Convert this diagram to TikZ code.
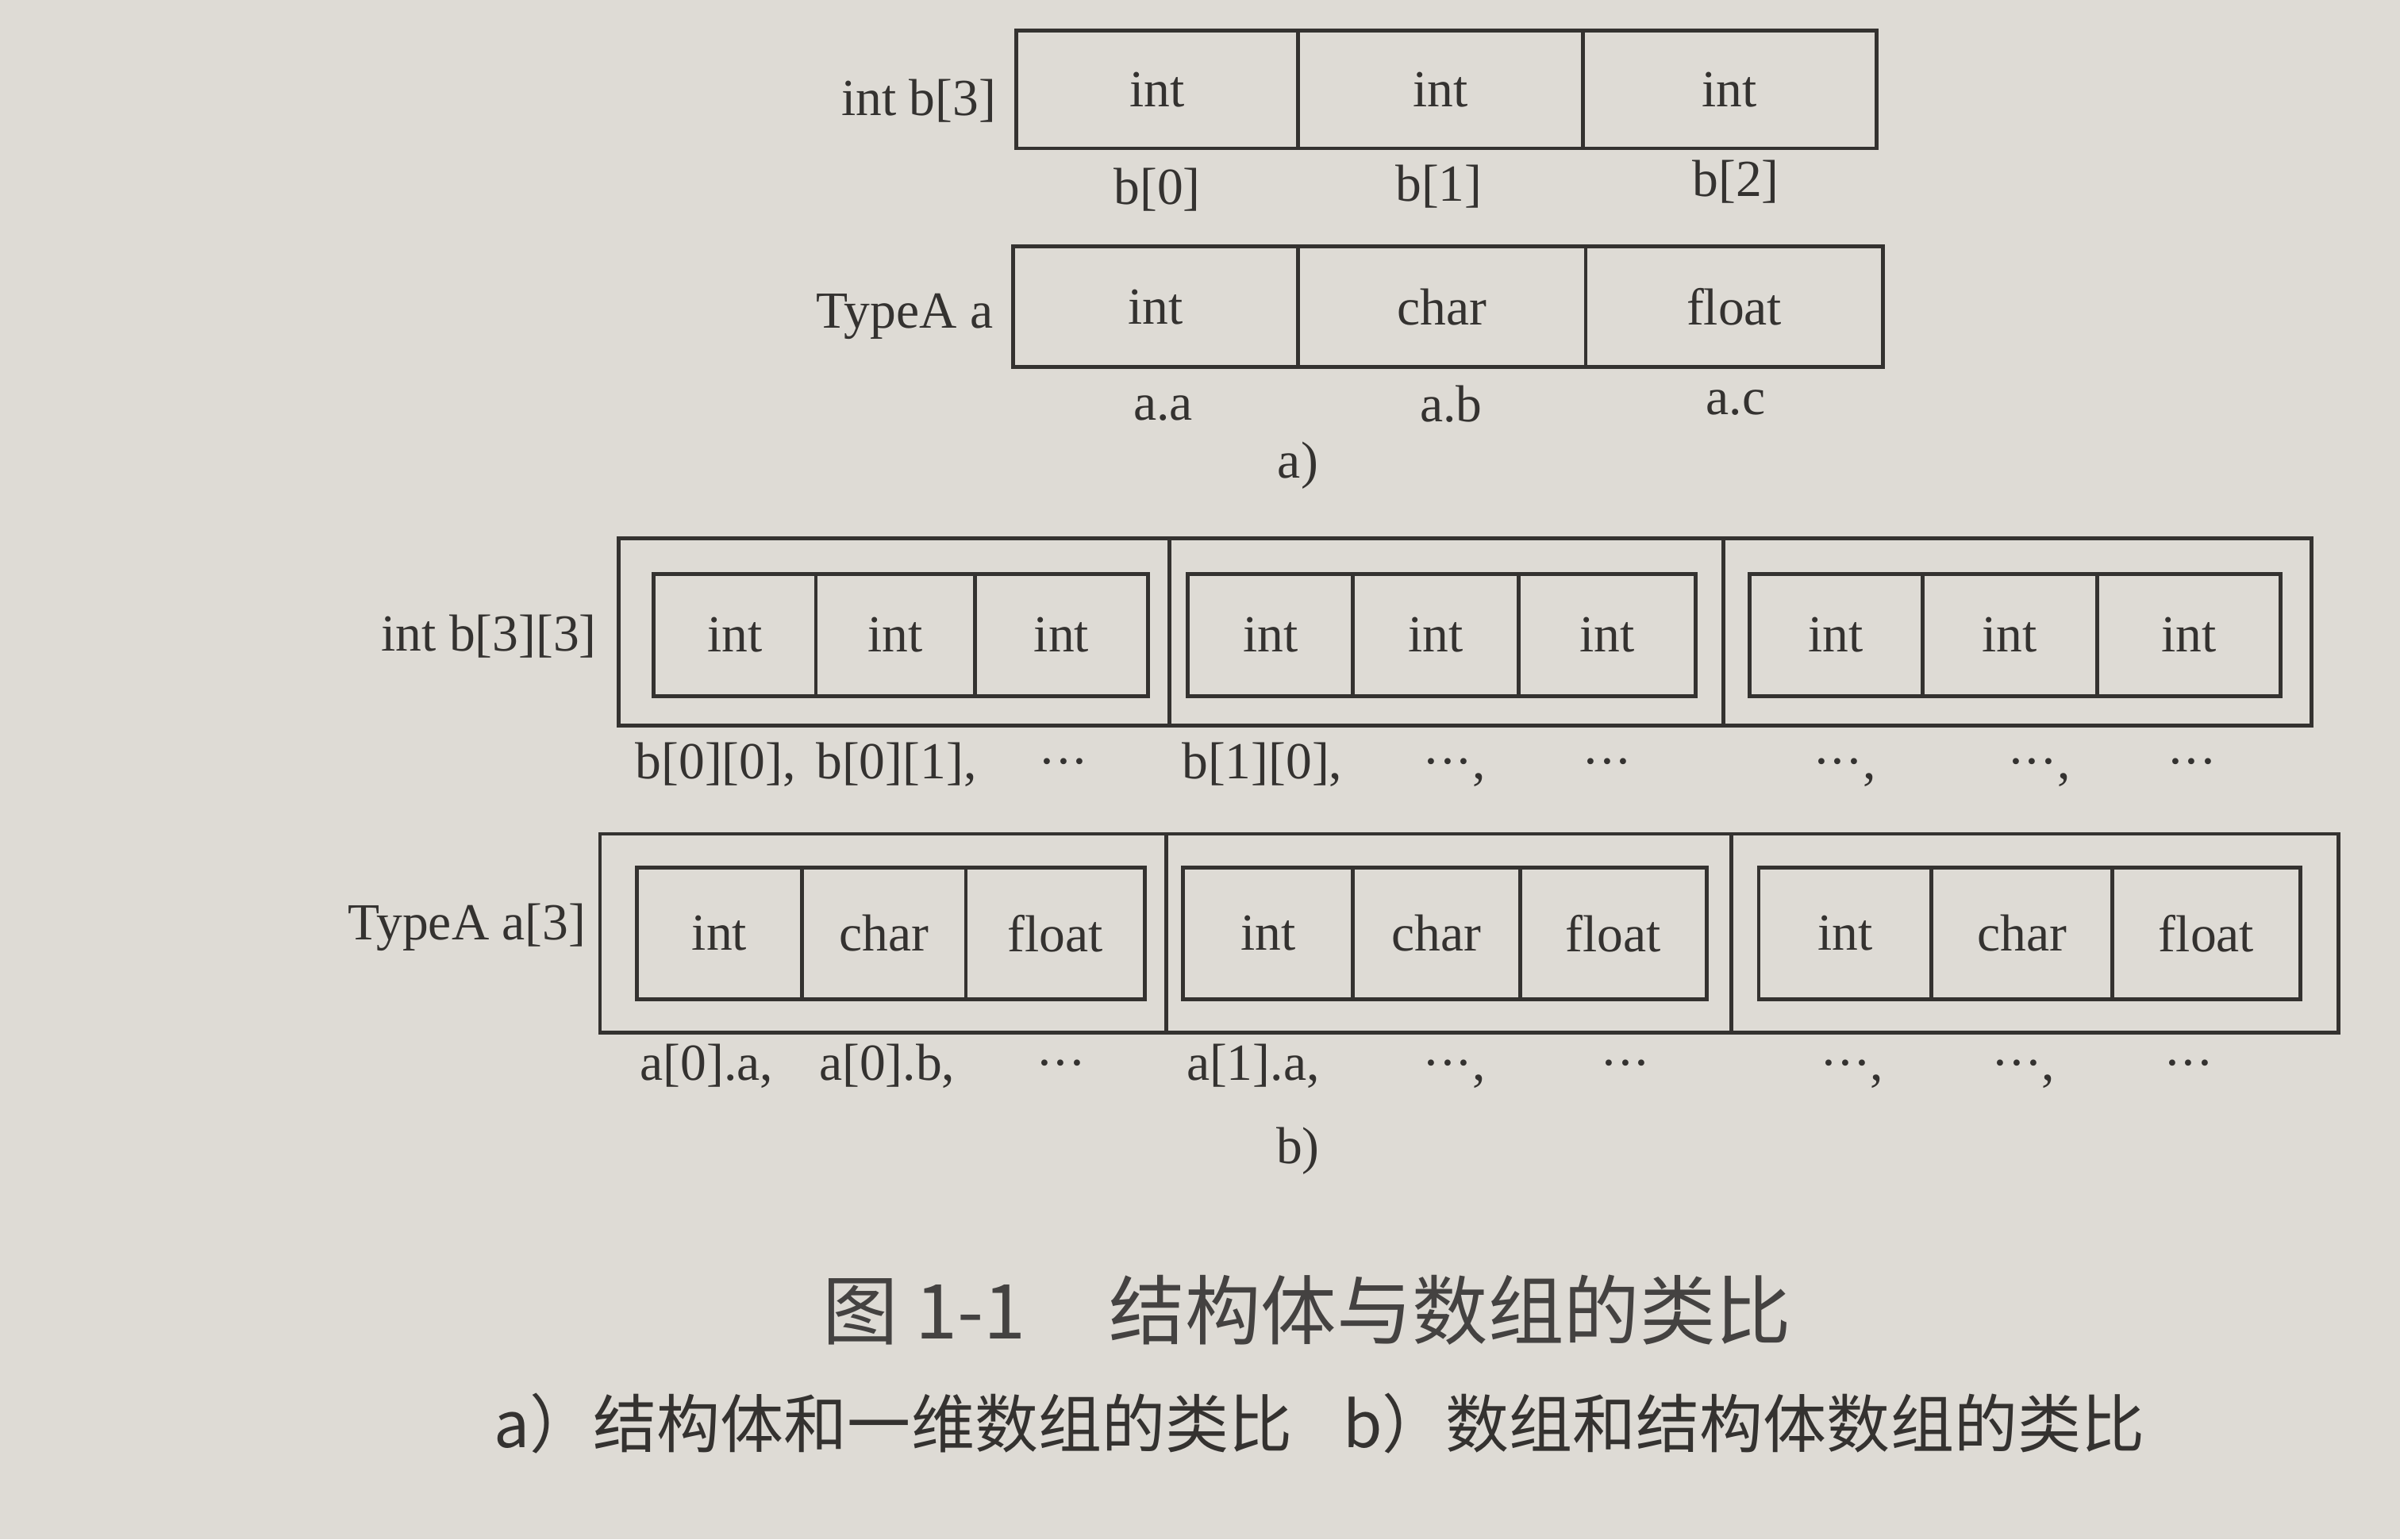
\documentclass[tikz,border=0pt]{standalone}
\usepackage{fontspec}
\setmainfont{Liberation Serif}
\newfontfamily\cjk{Noto Sans CJK SC}
\definecolor{ink}{RGB}{52,50,48}
\definecolor{paper}{RGB}{222,219,213}
\newcommand{\dd}{\textperiodcentered\kern-0.02em\textperiodcentered\kern-0.02em\textperiodcentered}
\begin{document}
\begin{tikzpicture}[x=1pt,y=-1pt,
  cell/.style={draw=ink, line width=2.5pt, inner sep=0pt, text=ink, font=\fontsize{34}{40}\selectfont},
  frame/.style={draw=ink, line width=2.5pt, inner sep=0pt},
  lbl/.style={text=ink, inner sep=0pt, font=\fontsize{34}{40}\selectfont},
  figcaption/.style={text=ink!92, inner sep=0pt, font=\cjk\fontsize{49.5}{58}\selectfont},
  subcaption/.style={text=ink, inner sep=0pt, font=\cjk\fontsize{41.5}{50}\selectfont}]
\fill[paper] (0,0) rectangle (1568,1006);
\useasboundingbox (0,0) rectangle (1568,1006);

% ---------- part a ----------
\node[cell, minimum width=184pt, minimum height=77pt] (b0) at (756,58.5) {int};
\node[cell, minimum width=186pt, minimum height=77pt] (b1) at (941,58.5) {int};
\node[cell, minimum width=192pt, minimum height=77pt] (b2) at (1130,58.5) {int};
\node[lbl, anchor=east] (lb) at (651,66) {int b[3]};
\node[lbl] (lb0) at (756,124) {b[0]};
\node[lbl] (lb1) at (940,122) {b[1]};
\node[lbl] (lb2) at (1134,119) {b[2]};

\node[cell, minimum width=186pt, minimum height=79pt] (aa) at (755,200.5) {int};
\node[cell, minimum width=188pt, minimum height=79pt] (ab) at (942,200.5) {char};
\node[cell, minimum width=194pt, minimum height=79pt] (ac) at (1133,200.5) {float};
\node[lbl, anchor=east] (la) at (649,207) {TypeA a};
\node[lbl] (laa) at (760,267) {a.a};
\node[lbl] (lab) at (948,264) {a.b};
\node[lbl] (lac) at (1134,263) {a.c};
\node[lbl] (pa) at (848,304) {a)};

% ---------- part b: int b[3][3] ----------
\node[frame, minimum width=360pt, minimum height=122pt] (B0) at (584,413) {};
\node[frame, minimum width=362pt, minimum height=122pt] (B1) at (945,413) {};
\node[frame, minimum width=384pt, minimum height=122pt] (B2) at (1318,413) {};
\node[cell, minimum width=106pt, minimum height=80pt] (B00) at (480,415) {int};
\node[cell, minimum width=104pt, minimum height=80pt] (B01) at (585,415) {int};
\node[cell, minimum width=113pt, minimum height=80pt] (B02) at (693.5,415) {int};
\node[cell, minimum width=108pt, minimum height=80pt] (B10) at (830,415) {int};
\node[cell, minimum width=108pt, minimum height=80pt] (B11) at (938,415) {int};
\node[cell, minimum width=116pt, minimum height=80pt] (B12) at (1050,415) {int};
\node[cell, minimum width=113pt, minimum height=80pt] (B20) at (1199.5,415) {int};
\node[cell, minimum width=114pt, minimum height=80pt] (B21) at (1313,415) {int};
\node[cell, minimum width=120pt, minimum height=80pt] (B22) at (1430,415) {int};
\node[lbl, anchor=east] (lB) at (390,416) {int b[3][3]};
\node[lbl, anchor=base west] (tB00) at (415,509) {b[0][0],};
\node[lbl, anchor=base west] (tB01) at (533,509) {b[0][1],};
\node[lbl, anchor=base] (tB02) at (695,509) {\dd};
\node[lbl, anchor=base west] (tB10) at (772,509) {b[1][0],};
\node[lbl, anchor=base] (tB11) at (950,509) {\dd,};
\node[lbl, anchor=base] (tB12) at (1050,509) {\dd};
\node[lbl, anchor=base] (tB20) at (1205,509) {\dd,};
\node[lbl, anchor=base] (tB21) at (1332,509) {\dd,};
\node[lbl, anchor=base] (tB22) at (1432,509) {\dd};

% ---------- part b: TypeA a[3] ----------
\node[frame, minimum width=370pt, minimum height=130pt] (A0) at (577,610) {};
\node[frame, minimum width=369pt, minimum height=130pt] (A1) at (946.5,610) {};
\node[frame, minimum width=397pt, minimum height=130pt] (A2) at (1329.5,610) {};
\node[cell, minimum width=108pt, minimum height=86pt] (A00) at (470,610) {int};
\node[cell, minimum width=107pt, minimum height=86pt] (A01) at (577.5,610) {char};
\node[cell, minimum width=117pt, minimum height=86pt] (A02) at (689.5,610) {float};
\node[cell, minimum width=111pt, minimum height=86pt] (A10) at (828.5,610) {int};
\node[cell, minimum width=109pt, minimum height=86pt] (A11) at (938.5,610) {char};
\node[cell, minimum width=122pt, minimum height=86pt] (A12) at (1054,610) {float};
\node[cell, minimum width=113pt, minimum height=86pt] (A20) at (1205.5,610) {int};
\node[cell, minimum width=118pt, minimum height=86pt] (A21) at (1321,610) {char};
\node[cell, minimum width=123pt, minimum height=86pt] (A22) at (1441.5,610) {float};
\node[lbl, anchor=east] (lA) at (383,606) {TypeA a[3]};
\node[lbl, anchor=base west] (tA00) at (418,706) {a[0].a,};
\node[lbl, anchor=base west] (tA01) at (535,706) {a[0].b,};
\node[lbl, anchor=base] (tA02) at (693,706) {\dd};
\node[lbl, anchor=base west] (tA10) at (775,706) {a[1].a,};
\node[lbl, anchor=base] (tA11) at (950,706) {\dd,};
\node[lbl, anchor=base] (tA12) at (1062,706) {\dd};
\node[lbl, anchor=base] (tA20) at (1210,706) {\dd,};
\node[lbl, anchor=base] (tA21) at (1322,706) {\dd,};
\node[lbl, anchor=base] (tA22) at (1430,706) {\dd};
\node[lbl] (pb) at (848,752) {b)};

% ---------- captions ----------
\node[figcaption] (fcap) at (854,856) {图 1-1\hspace{1.1em}结构体与数组的类比};
\node[subcaption] (scap) at (862,930) {a）结构体和一维数组的类比\hspace{0.8em}b）数组和结构体数组的类比};
\end{tikzpicture}
\end{document}
